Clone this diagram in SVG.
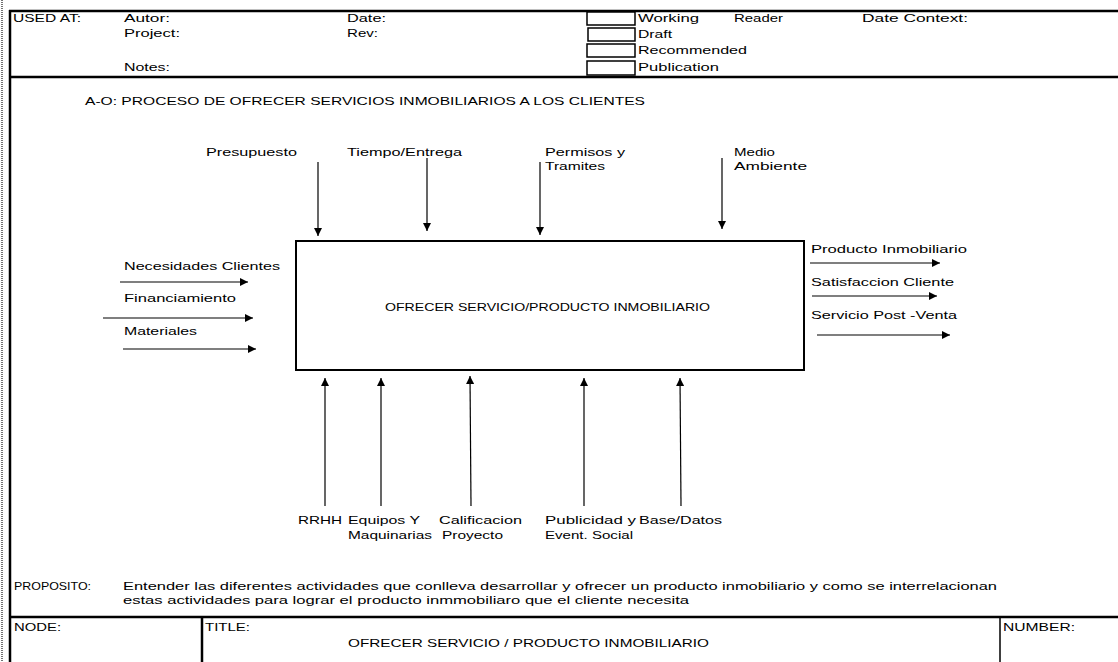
<svg xmlns="http://www.w3.org/2000/svg" width="1118" height="662" viewBox="0 0 1118 662">
<defs>
<marker id="ah" viewBox="0 0 10 10" refX="10" refY="5" markerWidth="8" markerHeight="8" markerUnits="userSpaceOnUse" orient="auto">
<path d="M0,0 L10,5 L0,10 z" fill="#000"/>
</marker>
<style>
text{font-family:"Liberation Sans",Arial,sans-serif;font-size:11.5px;fill:#000}
.frame{stroke:#000;stroke-width:2.5;fill:none}
.thin{stroke:#000;stroke-width:1.5;fill:none}
.arr{stroke:#000;stroke-width:1.2;fill:none;marker-end:url(#ah)}
.cb{stroke:#000;stroke-width:1.5;fill:#fff}
</style>
</defs>
<rect width="1118" height="662" fill="#fff"/>
<g id="frame">
<line x1="2" y1="0" x2="2" y2="662" stroke="#444" stroke-width="1.5" stroke-dasharray="1,1"/>
<line x1="10" y1="10" x2="10" y2="662" class="frame"/>
<line x1="9" y1="11" x2="1118" y2="11" class="frame"/>
<line x1="9" y1="77" x2="1118" y2="77" class="frame"/>
<line x1="9" y1="617" x2="1118" y2="617" class="frame"/>
<line x1="202" y1="617" x2="202" y2="662" class="frame"/>
<line x1="1000" y1="617" x2="1000" y2="662" class="thin"/>
</g>
<g id="header">
<text x="13" y="22" textLength="68" lengthAdjust="spacingAndGlyphs">USED AT:</text>
<text x="124" y="22" textLength="46" lengthAdjust="spacingAndGlyphs">Autor:</text>
<text x="124" y="37" textLength="56" lengthAdjust="spacingAndGlyphs">Project:</text>
<text x="124" y="71" textLength="46" lengthAdjust="spacingAndGlyphs">Notes:</text>
<text x="347" y="22" textLength="39" lengthAdjust="spacingAndGlyphs">Date:</text>
<text x="347" y="37" textLength="31" lengthAdjust="spacingAndGlyphs">Rev:</text>
<rect x="587" y="12" width="48" height="13" class="cb"/>
<rect x="588" y="28" width="47" height="13" class="cb"/>
<rect x="587" y="44" width="48" height="13" class="cb"/>
<rect x="587" y="61" width="48" height="14" class="cb"/>
<text x="638" y="22" textLength="61" lengthAdjust="spacingAndGlyphs">Working</text>
<text x="734" y="22" textLength="49" lengthAdjust="spacingAndGlyphs">Reader</text>
<text x="638" y="38" textLength="34" lengthAdjust="spacingAndGlyphs">Draft</text>
<text x="638" y="54" textLength="109" lengthAdjust="spacingAndGlyphs">Recommended</text>
<text x="638" y="71" textLength="81" lengthAdjust="spacingAndGlyphs">Publication</text>
<text x="862" y="22" textLength="106" lengthAdjust="spacingAndGlyphs">Date  Context:</text>
</g>
<text x="85" y="105" textLength="560" lengthAdjust="spacingAndGlyphs">A-O: PROCESO DE OFRECER SERVICIOS INMOBILIARIOS A LOS CLIENTES</text>
<g id="activity">
<rect x="296" y="241" width="508" height="129" fill="#fff" stroke="#000" stroke-width="2"/>
<text x="385" y="311" textLength="325" lengthAdjust="spacingAndGlyphs">OFRECER SERVICIO/PRODUCTO INMOBILIARIO</text>
</g>
<g id="controls">
<text x="206" y="156" textLength="91" lengthAdjust="spacingAndGlyphs">Presupuesto</text>
<text x="347" y="156" textLength="115" lengthAdjust="spacingAndGlyphs">Tiempo/Entrega</text>
<text x="545" y="156" textLength="80" lengthAdjust="spacingAndGlyphs">Permisos y</text>
<text x="545" y="170" textLength="60" lengthAdjust="spacingAndGlyphs">Tramites</text>
<text x="734" y="156" textLength="41" lengthAdjust="spacingAndGlyphs">Medio</text>
<text x="734" y="170" textLength="73" lengthAdjust="spacingAndGlyphs">Ambiente</text>
</g>
<g id="inputs">
<text x="124" y="270" textLength="156" lengthAdjust="spacingAndGlyphs">Necesidades Clientes</text>
<text x="124" y="302" textLength="112" lengthAdjust="spacingAndGlyphs">Financiamiento</text>
<text x="124" y="335" textLength="73" lengthAdjust="spacingAndGlyphs">Materiales</text>
</g>
<g id="outputs">
<text x="811" y="253" textLength="156" lengthAdjust="spacingAndGlyphs">Producto Inmobiliario</text>
<text x="811" y="286" textLength="143" lengthAdjust="spacingAndGlyphs">Satisfaccion Cliente</text>
<text x="811" y="319" textLength="146" lengthAdjust="spacingAndGlyphs">Servicio Post -Venta</text>
</g>
<g id="mechanisms">
<text x="298" y="524" textLength="44" lengthAdjust="spacingAndGlyphs">RRHH</text>
<text x="348" y="524" textLength="72" lengthAdjust="spacingAndGlyphs">Equipos Y</text>
<text x="348" y="539" textLength="84" lengthAdjust="spacingAndGlyphs">Maquinarias</text>
<text x="439" y="524" textLength="83" lengthAdjust="spacingAndGlyphs">Calificacion</text>
<text x="442" y="539" textLength="61" lengthAdjust="spacingAndGlyphs">Proyecto</text>
<text x="545" y="524" textLength="91" lengthAdjust="spacingAndGlyphs">Publicidad y</text>
<text x="545" y="539" textLength="88" lengthAdjust="spacingAndGlyphs">Event. Social</text>
<text x="639" y="524" textLength="83" lengthAdjust="spacingAndGlyphs">Base/Datos</text>
</g>
<g id="connectors">
<line x1="318" y1="162" x2="318" y2="236" class="arr"/>
<line x1="427" y1="158" x2="427" y2="231" class="arr"/>
<line x1="540" y1="162" x2="540" y2="235" class="arr"/>
<line x1="722" y1="158" x2="722" y2="229" class="arr"/>
<line x1="120" y1="282" x2="248" y2="282" class="arr"/>
<line x1="103" y1="318" x2="253" y2="318" class="arr"/>
<line x1="123" y1="349" x2="256" y2="349" class="arr"/>
<line x1="810" y1="263" x2="940" y2="263" class="arr"/>
<line x1="812" y1="296" x2="937" y2="296" class="arr"/>
<line x1="817" y1="335" x2="950" y2="335" class="arr"/>
<line x1="325" y1="506" x2="325" y2="378" class="arr"/>
<line x1="381" y1="506" x2="381" y2="378" class="arr"/>
<line x1="471" y1="506" x2="470" y2="376" class="arr"/>
<line x1="584" y1="506" x2="584" y2="378" class="arr"/>
<line x1="681" y1="506" x2="680" y2="378" class="arr"/>
</g>
<g id="purpose">
<text x="14" y="590" textLength="77" lengthAdjust="spacingAndGlyphs">PROPOSITO:</text>
<text x="123" y="590" textLength="874" lengthAdjust="spacingAndGlyphs">Entender las diferentes actividades que conlleva desarrollar y ofrecer un producto inmobiliario y como se interrelacionan</text>
<text x="123" y="604" textLength="566" lengthAdjust="spacingAndGlyphs">estas actividades para lograr el producto inmmobiliaro que el cliente necesita</text>
</g>
<g id="footer">
<text x="14" y="631" textLength="47" lengthAdjust="spacingAndGlyphs">NODE:</text>
<text x="205" y="631" textLength="45" lengthAdjust="spacingAndGlyphs">TITLE:</text>
<text x="348" y="647" textLength="361" lengthAdjust="spacingAndGlyphs">OFRECER SERVICIO / PRODUCTO INMOBILIARIO</text>
<text x="1003" y="631" textLength="72" lengthAdjust="spacingAndGlyphs">NUMBER:</text>
</g>
</svg>
